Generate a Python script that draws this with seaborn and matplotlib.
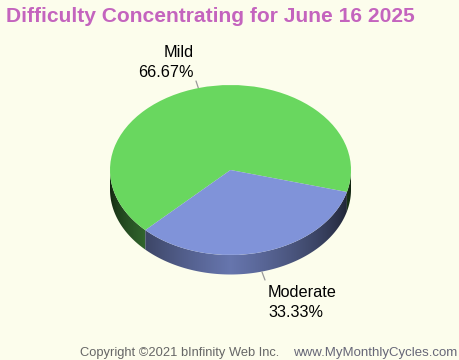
import numpy as np
from matplotlib import pyplot as plt
from matplotlib.patches import Polygon
import seaborn as sns

categories = ['Mild', 'Moderate']
values = [66.67, 33.33]
colors = ['#69d75f', '#8093d9']
title = 'Difficulty Concentrating for June 16 2025'
footer_left = 'Copyright ©2021 bInfinity Web Inc.'
footer_right = 'www.MyMonthlyCycles.com'

BG = '#fcfdec'
START = -15
DEPTH = 19.5 / 85

sns.set_theme(style='white')
plt.rcParams['font.family'] = ['Liberation Sans', 'DejaVu Sans']

fig = plt.figure(figsize=(4.6, 3.6), dpi=100, facecolor=BG)
ax = fig.add_axes([0, 0, 1, 1])
ax.set_facecolor(BG)


def px(x, y):
    # picture pixels to pie units
    return (x - 230.5) / 120.5, (170 - y) / 85


def side_wall(a0, a1, color):
    # shaded wall under one slice, a0 to a1 in degrees on the front half
    t = np.radians(np.linspace(a0, a1, 120))
    top = np.column_stack([np.cos(t), np.sin(t)])
    low = (top - [0, DEPTH])[::-1]
    poly = Polygon(np.vstack([top, low]), closed=True, fc='none', ec='none',
                   transform=ax.transData)
    ax.add_patch(poly)
    u = np.linspace(-1, 1, 400)
    shade = 0.17 + 0.63 * (1 - np.abs(u)) ** 0.6
    grad = np.clip(np.outer(shade, sns.desaturate(color, 1)), 0, 1)[None, :, :]
    im = ax.imshow(grad, extent=[-1, 1, -1.5, 0.5], aspect='auto', zorder=1,
                   interpolation='bilinear')
    im.set_clip_path(poly)


# side wall, only the part of each slice facing the front
split = START + values[0] / sum(values) * 360
side_wall(180, split, colors[0])
side_wall(split, 360 + START, colors[1])
side_wall(360 + START, 360, colors[0])

wedges, _ = ax.pie(values, colors=colors, startangle=START, radius=1,
                   wedgeprops={'lw': 0})
for w in wedges:
    w.set_zorder(2)

ax.set_aspect('auto')
ax.set_xlim(px(0, 0)[0], px(460, 0)[0])
ax.set_ylim(px(0, 360)[1], px(0, 0)[1])
ax.axis('off')

# leader lines
for (x0, y0), (x1, y1) in [((199, 90), (196, 81)), ((262, 272), (265, 280))]:
    a, b = px(x0, y0), px(x1, y1)
    ax.plot([a[0], b[0]], [a[1], b[1]], color='#999999', lw=0.9, zorder=1)


def label(x, y, s, **kw):
    fig.text(x / 460, 1 - y / 360, s, va='baseline', **kw)


label(6, 22, title, fontsize=15.15, fontweight='bold', color='#c464be', ha='left')
label(194, 57, categories[0], fontsize=11.7, color='black', ha='right')
label(194, 77, f'{values[0]:.2f}%', fontsize=11.7, color='black', ha='right')
label(268, 297, categories[1], fontsize=11.7, color='black', ha='left')
label(268, 317, f'{values[1]:.2f}%', fontsize=11.7, color='black', ha='left')
label(80, 356, footer_left, fontsize=9.3, color='#666666', ha='left')
label(293, 356, footer_right, fontsize=9.5, color='#666677', ha='left')

fig.savefig('out.png', dpi=100, facecolor=BG)
